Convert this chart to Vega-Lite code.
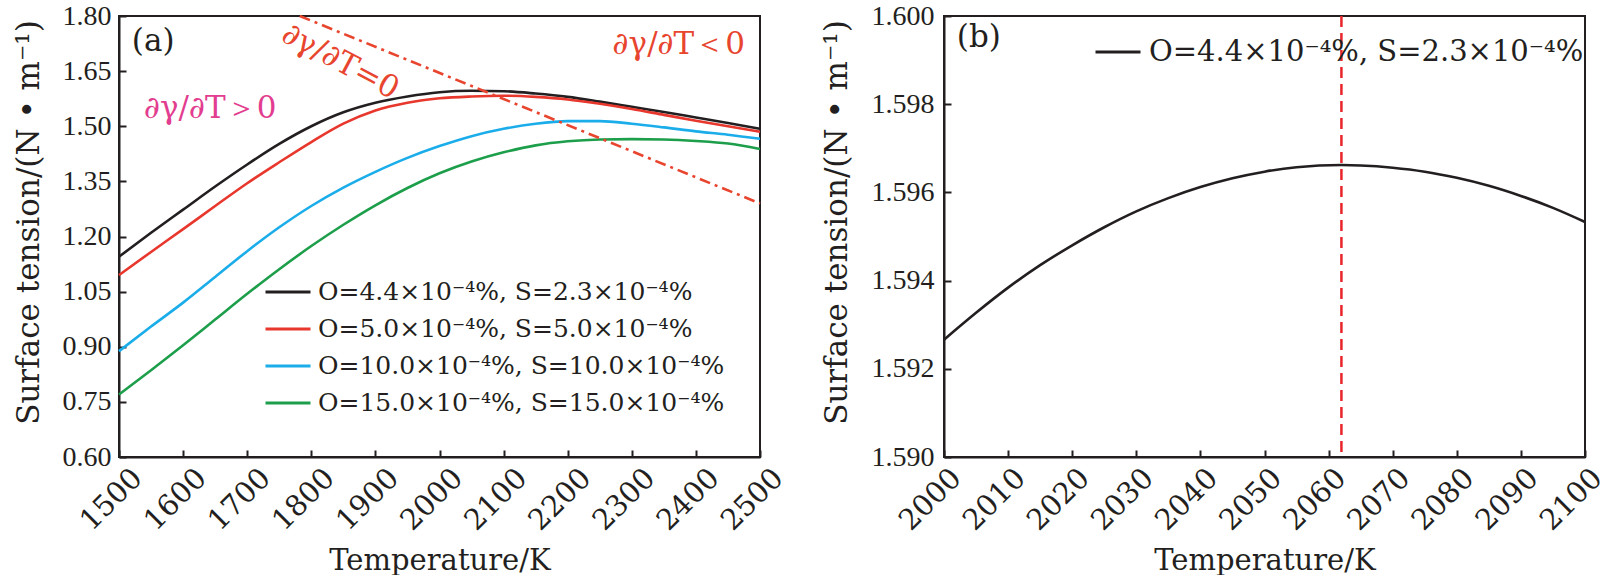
{
  "$schema": "https://vega.github.io/schema/vega-lite/v6.json",
  "background": "white",
  "padding": {"left": 12, "top": 1, "right": 0, "bottom": 0},
  "spacing": 184,
  "bounds": "flush",
  "config": {
    "font": "DejaVu Serif",
    "view": {"stroke": "#231f20", "strokeWidth": 2},
    "axis": {
      "grid": false,
      "domainColor": "#231f20",
      "domainWidth": 2,
      "tickColor": "#231f20",
      "tickWidth": 2,
      "tickSize": -7,
      "labelFont": "Liberation Serif",
      "labelFontSize": 28,
      "labelColor": "#231f20",
      "labelOverlap": false,
      "titleFont": "DejaVu Serif",
      "titleFontSize": 29,
      "titleFontWeight": "normal",
      "titleColor": "#231f20"
    },
    "axisY": {"labelPadding": 15, "titlePadding": 17, "titleFontSize": 31},
    "axisX": {
      "labelFont": "DejaVu Serif",
      "labelFontSize": 29,
      "labelAngle": -45,
      "labelAlign": "right",
      "labelBaseline": "middle",
      "labelOffset": 18,
      "labelPadding": 23,
      "titlePadding": 11
    },
    "legend": {
      "orient": "none",
      "symbolType": "stroke",
      "symbolStrokeWidth": 3,
      "symbolSize": 2025,
      "labelFont": "DejaVu Serif",
      "labelColor": "#231f20",
      "labelOffset": 6,
      "rowPadding": -3,
      "padding": 0,
      "labelLimit": 600
    }
  },
  "resolve": {
    "scale": {"x": "independent", "y": "independent", "color": "independent"},
    "legend": {"color": "independent"}
  },
  "hconcat": [
    {
      "width": 641,
      "height": 441,
      "data": {
        "values": [
          {"T": 1500, "c1": 1.145, "c2": 1.095, "c3": 0.888, "c4": 0.770},
          {"T": 1550, "c1": 1.210, "c2": 1.158, "c3": 0.955, "c4": 0.836},
          {"T": 1600, "c1": 1.273, "c2": 1.220, "c3": 1.020, "c4": 0.904},
          {"T": 1650, "c1": 1.336, "c2": 1.283, "c3": 1.090, "c4": 0.974},
          {"T": 1700, "c1": 1.396, "c2": 1.345, "c3": 1.160, "c4": 1.044},
          {"T": 1750, "c1": 1.452, "c2": 1.402, "c3": 1.225, "c4": 1.111},
          {"T": 1800, "c1": 1.500, "c2": 1.457, "c3": 1.283, "c4": 1.174},
          {"T": 1850, "c1": 1.538, "c2": 1.507, "c3": 1.333, "c4": 1.232},
          {"T": 1900, "c1": 1.564, "c2": 1.543, "c3": 1.376, "c4": 1.285},
          {"T": 1950, "c1": 1.581, "c2": 1.564, "c3": 1.414, "c4": 1.332},
          {"T": 2000, "c1": 1.5926, "c2": 1.576, "c3": 1.446, "c4": 1.372},
          {"T": 2050, "c1": 1.5965, "c2": 1.581, "c3": 1.473, "c4": 1.404},
          {"T": 2100, "c1": 1.5953, "c2": 1.583, "c3": 1.493, "c4": 1.429},
          {"T": 2150, "c1": 1.589, "c2": 1.580, "c3": 1.507, "c4": 1.448},
          {"T": 2200, "c1": 1.580, "c2": 1.573, "c3": 1.514, "c4": 1.459},
          {"T": 2250, "c1": 1.567, "c2": 1.561, "c3": 1.514, "c4": 1.464},
          {"T": 2300, "c1": 1.553, "c2": 1.547, "c3": 1.507, "c4": 1.465},
          {"T": 2350, "c1": 1.539, "c2": 1.531, "c3": 1.497, "c4": 1.464},
          {"T": 2400, "c1": 1.524, "c2": 1.515, "c3": 1.486, "c4": 1.460},
          {"T": 2450, "c1": 1.509, "c2": 1.500, "c3": 1.477, "c4": 1.453},
          {"T": 2500, "c1": 1.493, "c2": 1.485, "c3": 1.466, "c4": 1.438}
        ]
      },
      "encoding": {
        "x": {
          "field": "T",
          "type": "quantitative",
          "scale": {"domain": [1500, 2500], "nice": false},
          "axis": {
            "title": "Temperature/K",
            "values": [1500, 1600, 1700, 1800, 1900, 2000, 2100, 2200, 2300, 2400, 2500],
            "format": "d"
          }
        }
      },
      "layer": [
        {
          "mark": {"type": "line", "strokeWidth": 2.6, "interpolate": "monotone"},
          "encoding": {
            "y": {
              "field": "c1",
              "type": "quantitative",
              "scale": {"domain": [0.6, 1.8], "nice": false, "zero": false},
              "axis": {
                "title": "Surface tension/(N • m⁻¹)",
                "values": [0.6, 0.75, 0.9, 1.05, 1.2, 1.35, 1.5, 1.65, 1.8],
                "format": ".2f",
                "titleY": 206
              }
            },
            "color": {
              "datum": "O=4.4×10⁻⁴%, S=2.3×10⁻⁴%",
              "scale": {
                "domain": [
                  "O=4.4×10⁻⁴%, S=2.3×10⁻⁴%",
                  "O=5.0×10⁻⁴%, S=5.0×10⁻⁴%",
                  "O=10.0×10⁻⁴%, S=10.0×10⁻⁴%",
                  "O=15.0×10⁻⁴%, S=15.0×10⁻⁴%"
                ],
                "range": ["#231f20", "#e8372c", "#1badea", "#1d9e4a"]
              },
              "legend": {"title": null, "legendX": 145, "legendY": 252, "labelFontSize": 25}
            }
          }
        },
        {
          "mark": {"type": "line", "strokeWidth": 2.6, "interpolate": "monotone"},
          "encoding": {
            "y": {"field": "c2", "type": "quantitative"},
            "color": {"datum": "O=5.0×10⁻⁴%, S=5.0×10⁻⁴%"}
          }
        },
        {
          "mark": {"type": "line", "strokeWidth": 2.6, "interpolate": "monotone"},
          "encoding": {
            "y": {"field": "c3", "type": "quantitative"},
            "color": {"datum": "O=10.0×10⁻⁴%, S=10.0×10⁻⁴%"}
          }
        },
        {
          "mark": {"type": "line", "strokeWidth": 2.6, "interpolate": "monotone"},
          "encoding": {
            "y": {"field": "c4", "type": "quantitative"},
            "color": {"datum": "O=15.0×10⁻⁴%, S=15.0×10⁻⁴%"}
          }
        },
        {
          "data": {"values": [{"T": 1782, "v": 1.8}, {"T": 2500, "v": 1.29}]},
          "mark": {"type": "line", "color": "#e8452f", "strokeWidth": 2.6, "strokeDash": [11, 5, 3, 5]},
          "encoding": {"y": {"field": "v", "type": "quantitative"}}
        },
        {
          "data": {"values": [{"T": 1520, "v": 1.728, "label": "(a)"}]},
          "mark": {"type": "text", "align": "left", "baseline": "middle", "fontSize": 31, "color": "#231f20"},
          "encoding": {"y": {"field": "v", "type": "quantitative"}, "text": {"field": "label"}}
        },
        {
          "data": {"values": [{"T": 2270, "v": 1.72, "label": "∂γ/∂T＜0"}]},
          "mark": {"type": "text", "align": "left", "baseline": "middle", "fontSize": 31, "color": "#e8452f"},
          "encoding": {"y": {"field": "v", "type": "quantitative"}, "text": {"field": "label"}}
        },
        {
          "data": {"values": [{"T": 1539, "v": 1.547, "label": "∂γ/∂T＞0"}]},
          "mark": {"type": "text", "align": "left", "baseline": "middle", "fontSize": 31, "color": "#e23d8f"},
          "encoding": {"y": {"field": "v", "type": "quantitative"}, "text": {"field": "label"}}
        },
        {
          "data": {"values": [{"T": 1845, "v": 1.675, "label": "∂γ/∂T=0"}]},
          "mark": {"type": "text", "align": "center", "baseline": "middle", "fontSize": 31, "angle": 28, "color": "#e8452f"},
          "encoding": {"y": {"field": "v", "type": "quantitative"}, "text": {"field": "label"}}
        }
      ]
    },
    {
      "width": 641,
      "height": 441,
      "encoding": {
        "x": {
          "field": "T",
          "type": "quantitative",
          "scale": {"domain": [2000, 2100], "nice": false, "zero": false},
          "axis": {
            "title": "Temperature/K",
            "values": [2000, 2010, 2020, 2030, 2040, 2050, 2060, 2070, 2080, 2090, 2100],
            "format": "d",
            "labelOffset": 12
          }
        }
      },
      "layer": [
        {
          "data": {
            "values": [
              {"T": 2000, "v": 1.59266},
              {"T": 2005, "v": 1.59327},
              {"T": 2010, "v": 1.59384},
              {"T": 2015, "v": 1.59435},
              {"T": 2020, "v": 1.5948},
              {"T": 2025, "v": 1.59521},
              {"T": 2030, "v": 1.59557},
              {"T": 2035, "v": 1.59587},
              {"T": 2040, "v": 1.59612},
              {"T": 2045, "v": 1.59632},
              {"T": 2050, "v": 1.59647},
              {"T": 2055, "v": 1.59657},
              {"T": 2062, "v": 1.59662},
              {"T": 2065, "v": 1.59661},
              {"T": 2070, "v": 1.59656},
              {"T": 2075, "v": 1.59647},
              {"T": 2080, "v": 1.59633},
              {"T": 2085, "v": 1.59615},
              {"T": 2090, "v": 1.59592},
              {"T": 2095, "v": 1.59565},
              {"T": 2100, "v": 1.59533}
            ]
          },
          "mark": {"type": "line", "strokeWidth": 2.6, "interpolate": "monotone"},
          "encoding": {
            "y": {
              "field": "v",
              "type": "quantitative",
              "scale": {"domain": [1.59, 1.6], "nice": false, "zero": false},
              "axis": {
                "title": "Surface tension/(N • m⁻¹)",
                "values": [1.59, 1.592, 1.594, 1.596, 1.598, 1.6],
                "format": ".3f",
                "labelPadding": 17,
                "titlePadding": 18,
                "titleY": 206
              }
            },
            "color": {
              "datum": "O=4.4×10⁻⁴%, S=2.3×10⁻⁴%",
              "scale": {"range": ["#231f20"]},
              "legend": {"title": null, "legendX": 150, "legendY": 12, "labelFontSize": 29, "labelOffset": 7}
            }
          }
        },
        {
          "data": {"values": [{"T": 2062}]},
          "mark": {"type": "rule", "color": "#e8262b", "strokeWidth": 2.5, "strokeDash": [11, 6]},
          "encoding": {}
        },
        {
          "data": {"values": [{"T": 2002, "v": 1.5995, "label": "(b)"}]},
          "mark": {"type": "text", "align": "left", "baseline": "middle", "fontSize": 31, "color": "#231f20"},
          "encoding": {"y": {"field": "v", "type": "quantitative"}, "text": {"field": "label"}}
        }
      ]
    }
  ]
}
